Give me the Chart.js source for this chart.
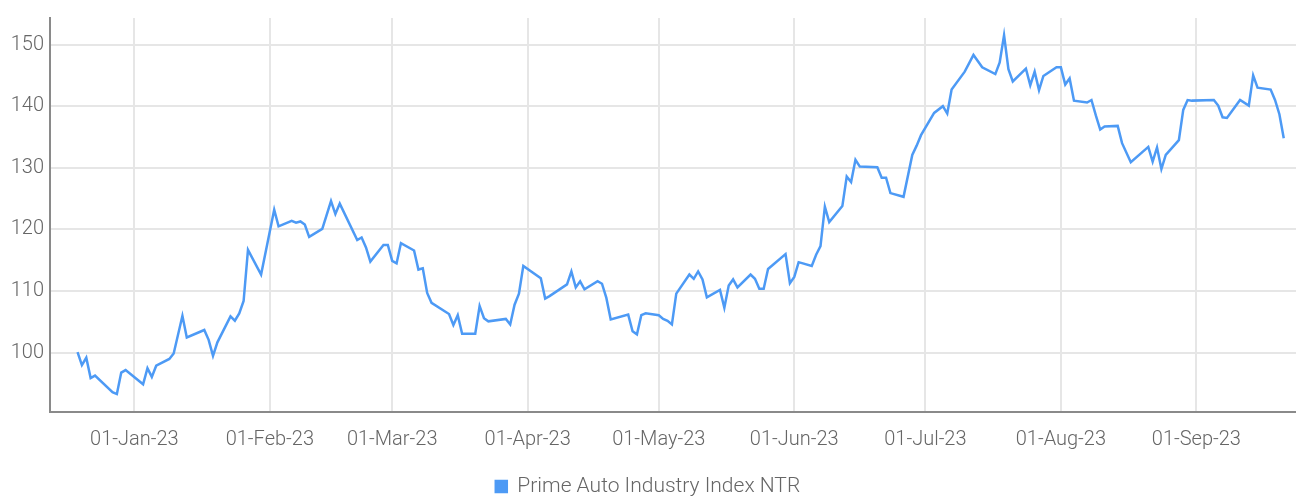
<!DOCTYPE html>
<html>
<head>
<meta charset="utf-8">
<script src="https://cdn.jsdelivr.net/npm/chart.js@4.4.1/dist/chart.umd.min.js"></script>
<style>
  html, body { margin: 0; padding: 0; background: #fff; overflow: hidden; }
  #wrap { width: 1296px; height: 507px; }
</style>
</head>
<body>
<div id="wrap"><canvas id="index_chart"></canvas></div>
<script>
// index level, one entry per trading day
const dates = [
  '2022-12-19', '2022-12-20', '2022-12-21', '2022-12-22', '2022-12-23', '2022-12-27', '2022-12-28', '2022-12-29', '2022-12-30',
  '2023-01-03', '2023-01-04', '2023-01-05', '2023-01-06', '2023-01-09', '2023-01-10', '2023-01-12', '2023-01-13',
  '2023-01-17', '2023-01-18', '2023-01-19', '2023-01-20', '2023-01-23', '2023-01-24', '2023-01-25', '2023-01-26',
  '2023-01-27', '2023-01-30', '2023-02-02', '2023-02-03', '2023-02-06', '2023-02-07', '2023-02-08', '2023-02-09',
  '2023-02-10', '2023-02-13', '2023-02-15', '2023-02-16', '2023-02-17', '2023-02-21', '2023-02-22', '2023-02-23',
  '2023-02-24', '2023-02-27', '2023-02-28', '2023-03-01', '2023-03-02', '2023-03-03', '2023-03-06', '2023-03-07',
  '2023-03-08', '2023-03-09', '2023-03-10', '2023-03-14', '2023-03-15', '2023-03-16', '2023-03-17', '2023-03-20',
  '2023-03-21', '2023-03-22', '2023-03-23', '2023-03-27', '2023-03-28', '2023-03-29', '2023-03-30', '2023-03-31',
  '2023-04-04', '2023-04-05', '2023-04-06', '2023-04-10', '2023-04-11', '2023-04-12', '2023-04-13', '2023-04-14',
  '2023-04-17', '2023-04-18', '2023-04-19', '2023-04-20', '2023-04-24', '2023-04-25', '2023-04-26', '2023-04-27',
  '2023-04-28', '2023-05-01', '2023-05-02', '2023-05-03', '2023-05-04', '2023-05-05', '2023-05-08', '2023-05-09',
  '2023-05-10', '2023-05-11', '2023-05-12', '2023-05-15', '2023-05-16', '2023-05-17', '2023-05-18', '2023-05-19',
  '2023-05-22', '2023-05-23', '2023-05-24', '2023-05-25', '2023-05-26', '2023-05-30', '2023-05-31', '2023-06-01',
  '2023-06-02', '2023-06-05', '2023-06-06', '2023-06-07', '2023-06-08', '2023-06-09', '2023-06-12', '2023-06-13',
  '2023-06-14', '2023-06-15', '2023-06-16', '2023-06-20', '2023-06-21', '2023-06-22', '2023-06-23', '2023-06-26',
  '2023-06-28', '2023-06-29', '2023-06-30', '2023-07-03', '2023-07-05', '2023-07-06', '2023-07-07', '2023-07-10',
  '2023-07-12', '2023-07-14', '2023-07-17', '2023-07-18', '2023-07-19', '2023-07-20', '2023-07-21', '2023-07-24',
  '2023-07-25', '2023-07-26', '2023-07-27', '2023-07-28', '2023-07-31', '2023-08-01', '2023-08-02', '2023-08-03',
  '2023-08-04', '2023-08-07', '2023-08-08', '2023-08-09', '2023-08-10', '2023-08-11', '2023-08-14', '2023-08-15',
  '2023-08-17', '2023-08-21', '2023-08-22', '2023-08-23', '2023-08-24', '2023-08-25', '2023-08-28', '2023-08-29',
  '2023-08-30', '2023-08-31', '2023-09-05', '2023-09-06', '2023-09-07', '2023-09-08', '2023-09-11', '2023-09-13',
  '2023-09-14', '2023-09-15', '2023-09-18', '2023-09-19', '2023-09-20', '2023-09-21'
];
const values = [
  100.1, 98.0, 99.2, 95.9, 96.3, 93.6, 93.3, 96.8, 97.2,
  94.9, 97.5, 96.1, 97.9, 99.0, 99.9, 106.0, 102.5,
  103.7, 102.1, 99.5, 101.7, 105.9, 105.2, 106.4, 108.4,
  116.7, 112.7, 123.2, 120.5, 121.4, 121.1, 121.3, 120.8,
  118.8, 120.1, 124.6, 122.5, 124.2, 118.3, 118.7, 117.1,
  114.8, 117.5, 117.5, 114.9, 114.5, 117.8, 116.6, 113.5,
  113.7, 109.7, 108.1, 106.3, 104.5, 106.1, 103.1, 103.1,
  107.6, 105.6, 105.1, 105.5, 104.6, 107.8, 109.6, 114.1,
  112.1, 108.8, 109.2, 111.1, 113.2, 110.6, 111.6, 110.3,
  111.6, 111.2, 108.9, 105.4, 106.2, 103.5, 103.0, 106.1,
  106.4, 106.1, 105.5, 105.2, 104.6, 109.6, 112.7, 112.0,
  113.2, 111.9, 109.0, 110.2, 107.3, 110.9, 111.9, 110.6,
  112.7, 112.0, 110.4, 110.4, 113.6, 116.0, 111.3, 112.3,
  114.7, 114.1, 115.9, 117.3, 123.7, 121.2, 123.8, 128.6,
  127.7, 131.3, 130.2, 130.1, 128.4, 128.4, 125.9, 125.3,
  132.1, 133.6, 135.3, 138.9, 140.0, 138.8, 142.7, 145.6,
  148.3, 146.3, 145.2, 147.1, 151.5, 146.0, 144.0, 146.1,
  143.4, 145.6, 142.6, 144.9, 146.3, 146.3, 143.5, 144.5,
  140.9, 140.6, 141.0, 138.5, 136.2, 136.7, 136.8, 134.0,
  130.9, 133.4, 131.0, 133.3, 129.8, 132.1, 134.5, 139.4,
  141.0, 140.9, 141.0, 140.1, 138.2, 138.1, 141.0, 140.1,
  145.0, 143.0, 142.7, 141.0, 138.7, 134.8
];
const tickDates = ['2023-01-01', '2023-02-01', '2023-03-01', '2023-04-01', '2023-05-01', '2023-06-01', '2023-07-01', '2023-08-01', '2023-09-01'];
const tickLabels = ['01-Jan-23', '01-Feb-23', '01-Mar-23', '01-Apr-23', '01-May-23', '01-Jun-23', '01-Jul-23', '01-Aug-23', '01-Sep-23'];
const yTicks = [100, 110, 120, 130, 140, 150];
const seriesName = 'Prime Auto Industry Index NTR';

// days counted from 1 Jan 2023
function dayNum(s) {
    let p = s.split('-');
    return (Date.UTC(+p[0], +p[1] - 1, +p[2]) - Date.UTC(2023, 0, 1)) / 86400000;
}

const points = dates.map((d, i) => ({ x: dayNum(d), y: values[i] }));
const tickDays = tickDates.map(dayNum);

const font = { family: 'Roboto', size: 20, weight: 300 };
const textColor = '#666666';

const chart = new Chart(document.getElementById('index_chart'), {
    type: 'line',
    data: {
        datasets: [{
            label: seriesName,
            data: points,
            borderColor: '#4d9af5',
            backgroundColor: '#4d9af5',
            borderWidth: 2.5,
            pointRadius: 0,
            tension: 0
        }]
    },
    options: {
        responsive: true,
        maintainAspectRatio: false,
        animation: false,
        layout: { padding: { top: 15, right: 0, left: 0, bottom: 0 } },
        plugins: {
            legend: {
                display: true,
                position: 'bottom',
                labels: {
                    color: textColor,
                    font: { family: 'Roboto', size: 21, weight: 300 },
                    boxWidth: 11,
                    boxHeight: 11,
                    padding: 8
                }
            },
            tooltip: { enabled: false }
        },
        scales: {
            x: {
                type: 'linear',
                min: -19.3,
                max: 265.8,
                afterBuildTicks: function(scale) {
                    scale.ticks = tickDays.map(v => ({ value: v }));
                },
                afterFit: function(scale) {
                    scale.height = 56;
                },
                ticks: {
                    color: textColor,
                    font: font,
                    padding: 16,
                    maxRotation: 0,
                    autoSkip: false,
                    callback: function(v) {
                        let i = tickDays.indexOf(v);
                        return i >= 0 ? tickLabels[i] : '';
                    }
                },
                grid: { color: '#e6e6e6', lineWidth: 2, drawTicks: false },
                border: { color: '#8a8a8a', width: 2 }
            },
            y: {
                min: 90.4,
                max: 154.3,
                afterBuildTicks: function(scale) {
                    scale.ticks = yTicks.map(v => ({ value: v }));
                },
                afterFit: function(scale) {
                    scale.width = 50;
                },
                ticks: {
                    color: textColor,
                    font: font,
                    padding: 6
                },
                grid: { color: '#e6e6e6', lineWidth: 2, drawTicks: false },
                border: { color: '#8a8a8a', width: 2 }
            }
        }
    }
});
</script>
</body>
</html>
